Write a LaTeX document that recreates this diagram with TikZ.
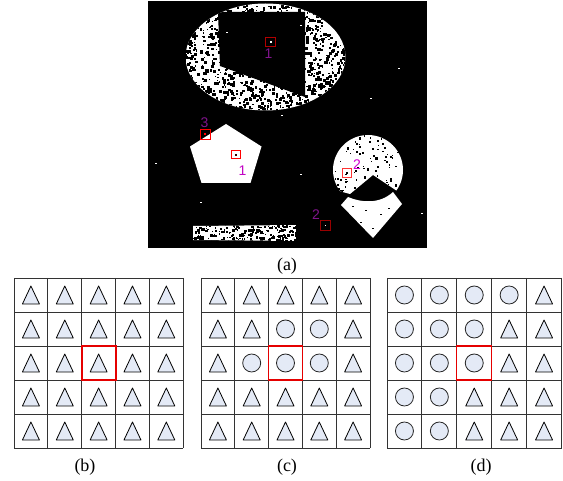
\documentclass[tikz,border=0pt]{standalone}
\usepackage{fontspec}
\setmainfont{Liberation Serif}
\newfontfamily\numfont{Liberation Sans}
\usetikzlibrary{positioning}

\definecolor{shapefill}{RGB}{228,234,246}
\definecolor{numpurple}{RGB}{128,20,140}
\definecolor{nummagenta}{RGB}{210,0,210}

% one 5x5 grid: x0, cell width, red line width, pattern (T = triangle, C = circle)
\newcommand{\cellgrid}[4]{%
  \foreach \s [count=\k from 0] in {#4}{
    \pgfmathtruncatemacro\grow{div(\k,5)}
    \pgfmathtruncatemacro\gcol{mod(\k,5)}
    \pgfmathsetmacro\cx{#1+(\gcol+0.5)*#2}
    \pgfmathsetmacro\cy{278+(\grow+0.5)*34}
    \if\s T
      \draw[tri] (\cx,\cy-9) -- (\cx+8.5,\cy+9) -- (\cx-8.5,\cy+9) -- cycle;
    \else
      \draw[cir] (\cx,\cy) circle[radius=9];
    \fi
  }
  \foreach \i in {0,...,5}{
    \draw[cellline] ({#1+\i*#2},278) -- ({#1+\i*#2},448);
    \draw[cellline] (#1,278+\i*34) -- ({#1+5*#2},278+\i*34);
  }
  \draw[redbox, line width=#3] ({#1+2*#2},346) rectangle ++(#2,34);
}

\begin{document}
\begin{tikzpicture}[
    x=1pt, y=-1pt,
    tri/.style={draw=black, fill=shapefill, line width=0.8pt, line join=round},
    cir/.style={draw=black!85, fill=shapefill, line width=0.8pt},
    cellline/.style={draw=black!80, line width=0.9pt},
    redbox/.style={draw=red!90!black},
    redsq/.style={draw=red, line width=1pt},
    num/.style={font=\numfont\fontsize{14}{14}\selectfont, inner sep=0pt},
    subcap/.style={font=\fontsize{18}{20}\selectfont, inner sep=0pt}
]
\useasboundingbox (0,0) rectangle (563,481);
\pgfmathsetseed{11}

% (a) the binary image
\fill[black] (148,1) rectangle (427,248);

% noisy ring with its hole
\begin{scope}
  \clip (265.5,57) ellipse[x radius=80, y radius=53.5];
  \fill[white] (186,0) rectangle (346,111);
  \fill[black] (218,12) -- (305,12) -- (305,97) -- (220,66) -- cycle;
  \foreach \i in {1,...,1300}{
    \pgfmathsetmacro\nx{265.5+81*rand}
    \pgfmathsetmacro\ny{57+54*rand}
    \pgfmathsetmacro\ns{1+2.4*rnd}
    \fill[black] (\nx,\ny) rectangle ++(\ns,\ns);
  }
\end{scope}

% pentagon
\fill[white] (226,124) -- (261.5,146.5) -- (250.5,183) -- (201.5,183) -- (190,146.5) -- cycle;

% cut disc
\begin{scope}
  \clip (320,120) -- (420,120) -- (420,186) -- (397,191) -- (373,175)
        -- (350,194) -- (320,186) -- cycle;
  \fill[white] (368,170) circle[radius=35];
  \foreach \i in {1,...,120}{
    \pgfmathsetmacro\nx{368+36*rand}
    \pgfmathsetmacro\ny{170+36*rand}
    \pgfmathsetmacro\ns{1+1.3*rnd}
    \fill[black] (\nx,\ny) rectangle ++(\ns,\ns);
  }
\end{scope}

% diamond
\fill[white] (341,205) -- (348,197) .. controls (362,203) and (380,204) .. (393,192)
  -- (402,204) -- (373,238) -- cycle;
\foreach \p in {(360,222),(380,214),(365,210),(388,208),(352,206),(372,228)}
  \fill[black] \p rectangle ++(1.5,1.5);

% noisy bar
\begin{scope}
  \clip (193,226) -- (296,225) -- (296,241) -- (193,240) -- cycle;
  \fill[white] (193,225) rectangle (296,241);
  \foreach \i in {1,...,200}{
    \pgfmathsetmacro\nx{244.5+52*rand}
    \pgfmathsetmacro\ny{233+8.5*rand}
    \pgfmathsetmacro\ns{1+1.8*rnd}
    \fill[black] (\nx,\ny) rectangle ++(\ns,\ns);
  }
\end{scope}

% stray specks
\foreach \p in {(155,163),(200,202),(226,32),(300,174),(370,98),(398,68),(421,213),(281,115),(300,25)}
  \fill[white] \p rectangle ++(1.5,1.5);

% marked pixels
\draw[redsq, draw=red!70!black] (265.3,37.3) rectangle (275.3,46.7);
\fill[white] (269.5,41) rectangle ++(2,2);
\draw[redsq] (231,150.5) rectangle (240,159);
\fill[black!80!red] (234.5,154) rectangle ++(2,2);
\draw[redsq] (200,129.5) rectangle (210.5,140);
\fill[red] (204,133) rectangle ++(2,2);
\draw[redsq, draw=red!80] (342,168.5) rectangle (351,178);
\fill[black] (345.5,172.5) rectangle ++(2,2);
\draw[redsq, draw=red!60!black] (320.5,221) rectangle (330.5,231);
\fill[white] (324.5,225) rectangle ++(1.5,1.5);

\node[num, text=numpurple] (onetop) at (268.5,53.5) {1};
\node[num, text=numpurple] (three) at (204.5,122.5) {3};
\node[num, text=nummagenta!80!numpurple] (onepent) at (242.5,170.5) {1};
\node[num, text=nummagenta] (twodisc) at (357,165) {2};
\node[num, text=numpurple] (twolow) at (316,215) {2};

\node[subcap] (capa) at (287,266) {(a)};

% (b), (c), (d)
\cellgrid{14}{33.85}{2pt}{T,T,T,T,T,T,T,T,T,T,T,T,T,T,T,T,T,T,T,T,T,T,T,T,T}
\cellgrid{201}{33.8}{1.3pt}{T,T,T,T,T,T,T,C,C,T,T,C,C,C,T,T,T,T,T,T,T,T,T,T,T}
\cellgrid{387}{34.9}{1.3pt}{C,C,C,C,T,C,C,C,T,T,C,C,C,T,T,C,C,T,T,T,C,C,T,T,T}

\node[subcap] (capb) at (85,467) {(b)};
\node[subcap] (capc) at (287,467) {(c)};
\node[subcap] (capd) at (481,467) {(d)};
\end{tikzpicture}
\end{document}
